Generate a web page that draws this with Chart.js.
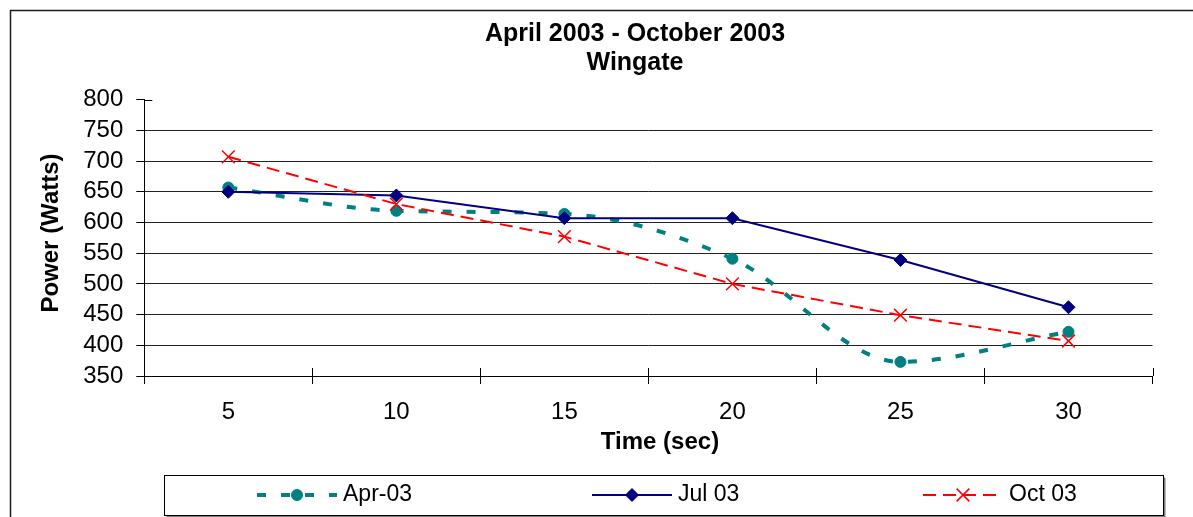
<!DOCTYPE html>
<html>
<head>
<meta charset="utf-8">
<title>Wingate</title>
<script src="https://cdn.jsdelivr.net/npm/chart.js@4/dist/chart.umd.min.js"></script>
<style>
  html, body { margin: 0; padding: 0; background: #fff; overflow: hidden; }
  canvas { display: block; }
</style>
</head>
<body>
<canvas id="myChart" width="1193" height="517"></canvas>
<script>
// data
const times = ['5', '10', '15', '20', '25', '30'];
const apr03 = [657, 619, 614, 541, 373, 422];
const jul03 = [650, 644, 607, 607, 539, 462];
const oct03 = [707, 630, 577, 500, 449, 407];
const seriesNames = ['Apr-03', 'Jul 03', 'Oct 03'];
const yTicks = { min: 350, max: 800, step: 50 };
const titleLines = ['April 2003 - October 2003', 'Wingate'];
const xTitle = 'Time (sec)';
const yTitle = 'Power (Watts)';

const FONT = '"Liberation Sans", Arial, sans-serif';

// titles, frame, the inner half of the axis ticks and the boxed legend
const excelBits = {
  id: 'excelBits',
  beforeDraw(chart) {
    const ctx = chart.ctx;
    ctx.save();
    ctx.fillStyle = '#fff';
    ctx.fillRect(0, 0, chart.width, chart.height);
    ctx.strokeStyle = '#1a1a1a';
    ctx.lineWidth = 1.5;
    ctx.beginPath();
    ctx.moveTo(10.5, chart.height);
    ctx.lineTo(10.5, 10.5);
    ctx.lineTo(chart.width, 10.5);
    ctx.stroke();
    ctx.restore();
  },
  afterDraw(chart) {
    const { ctx, scales: { x, y } } = chart;
    ctx.save();

    // tick marks cross the axes
    ctx.strokeStyle = '#000';
    ctx.lineWidth = 1;
    const yTop = Math.round(y.getPixelForValue(yTicks.max)) + 0.5;
    ctx.beginPath();
    ctx.moveTo(x.left, yTop);
    ctx.lineTo(x.left + 8, yTop);
    const half = (x.getPixelForValue(1) - x.getPixelForValue(0)) / 2;
    for (let i = 0; i <= times.length; i++) {
      const px = Math.round(x.getPixelForValue(0) - half + i * half * 2) + 0.5;
      ctx.moveTo(px, y.bottom - 8);
      ctx.lineTo(px, y.bottom);
    }
    ctx.stroke();

    // chart title
    ctx.fillStyle = '#000';
    ctx.textAlign = 'center';
    ctx.textBaseline = 'alphabetic';
    ctx.font = 'bold 25px ' + FONT;
    ctx.fillText(titleLines[0], 635, 41);
    ctx.fillText(titleLines[1], 635, 70);

    // axis titles
    ctx.font = 'bold 24px ' + FONT;
    ctx.fillText(xTitle, 660, 449);
    ctx.save();
    ctx.translate(51, 233);
    ctx.rotate(-Math.PI / 2);
    ctx.textBaseline = 'middle';
    ctx.fillText(yTitle, 0, 0);
    ctx.restore();

    // legend box with its shadow
    const box = { l: 164.5, t: 475.5, r: 1163.5, b: 515.5 };
    ctx.strokeStyle = '#808080';
    ctx.lineWidth = 2;
    ctx.beginPath();
    ctx.moveTo(box.r + 1, box.t + 2);
    ctx.lineTo(box.r + 1, box.b + 1);
    ctx.lineTo(box.l + 2, box.b + 1);
    ctx.stroke();
    ctx.strokeStyle = '#000';
    ctx.lineWidth = 1;
    ctx.strokeRect(box.l, box.t, box.r - box.l, box.b - box.t);

    const starts = [257, 592, 923];
    const ly = 495;
    ctx.font = '23px ' + FONT;
    ctx.textAlign = 'left';
    ctx.textBaseline = 'alphabetic';
    chart.data.datasets.forEach((ds, i) => {
      const sx = starts[i];
      ctx.save();
      ctx.strokeStyle = ds.borderColor;
      ctx.lineWidth = ds.borderWidth;
      ctx.lineCap = 'butt';
      ctx.setLineDash(ds.borderDash || []);
      ctx.beginPath();
      ctx.moveTo(sx, ly);
      ctx.lineTo(sx + 80, ly);
      ctx.stroke();
      ctx.setLineDash([]);
      ctx.fillStyle = ds.pointBackgroundColor;
      ctx.strokeStyle = ds.pointBorderColor;
      ctx.lineWidth = ds.pointBorderWidth;
      Chart.helpers.drawPoint(ctx, {
        pointStyle: ds.pointStyle,
        radius: ds.pointRadius,
        borderWidth: ds.pointBorderWidth,
        rotation: 0
      }, sx + 40, ly);
      ctx.restore();
      ctx.fillStyle = '#000';
      ctx.fillText(ds.label, sx + 86, 501);
    });

    ctx.restore();
  }
};

const ctx = document.getElementById('myChart').getContext('2d');
new Chart(ctx, {
  type: 'line',
  data: {
    labels: times,
    datasets: [{
      label: seriesNames[0],
      data: apr03,
      borderColor: '#008080',
      borderWidth: 4,
      borderDash: [9, 15],
      borderCapStyle: 'butt',
      tension: 0.4,
      cubicInterpolationMode: 'monotone',
      pointStyle: 'circle',
      pointRadius: 5.5,
      pointBackgroundColor: '#008080',
      pointBorderColor: '#008080',
      pointBorderWidth: 1,
      fill: false,
      order: 2
    }, {
      label: seriesNames[1],
      data: jul03,
      borderColor: '#000080',
      borderWidth: 2,
      tension: 0,
      pointStyle: 'rectRot',
      pointRadius: 6.5,
      pointBackgroundColor: '#000080',
      pointBorderColor: '#000080',
      pointBorderWidth: 1,
      fill: false,
      order: 1
    }, {
      label: seriesNames[2],
      data: oct03,
      borderColor: '#ff0000',
      borderWidth: 2,
      borderDash: [13, 7],
      borderCapStyle: 'butt',
      tension: 0,
      pointStyle: 'crossRot',
      pointRadius: 9,
      pointBackgroundColor: '#ff0000',
      pointBorderColor: '#ff0000',
      pointBorderWidth: 1.5,
      fill: false,
      order: 0
    }]
  },
  options: {
    responsive: false,
    devicePixelRatio: 1,
    animation: false,
    layout: {
      padding: { left: 10, top: 99.7, right: 40.5, bottom: 0 }
    },
    plugins: {
      legend: { display: false },
      title: { display: false },
      tooltip: { enabled: false }
    },
    scales: {
      x: {
        offset: true,
        grid: {
          offset: true,
          drawOnChartArea: false,
          drawTicks: true,
          tickLength: 8,
          color: '#000'
        },
        border: { display: true, color: '#000', width: 1 },
        ticks: {
          color: '#000',
          font: { family: FONT, size: 24 },
          padding: 14,
          maxRotation: 0,
          autoSkip: false
        },
        afterFit(axis) { axis.height = 141; }
      },
      y: {
        min: yTicks.min,
        max: yTicks.max,
        grid: {
          color: c => (c.tick && c.tick.value === yTicks.max) ? 'rgba(0,0,0,0)' : '#222',
          tickColor: '#000',
          tickLength: 8
        },
        border: { display: true, color: '#000', width: 1 },
        ticks: {
          stepSize: yTicks.step,
          color: '#000',
          font: { family: FONT, size: 24 },
          padding: 13,
          autoSkip: false
        },
        afterFit(axis) { axis.width = 134.3; }
      }
    }
  },
  plugins: [excelBits]
});
</script>
</body>
</html>
